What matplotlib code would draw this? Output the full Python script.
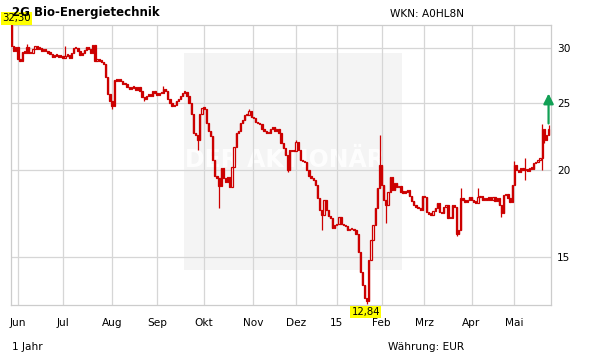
import matplotlib
matplotlib.use('Agg')
import matplotlib.pyplot as plt
import numpy as np
import pandas as pd
from matplotlib.patches import Rectangle

# ---------------- data ----------------
first_open = 32.30
closes = [
    30.20, 29.70, 30.10, 28.93, 28.74, 29.61, 29.51, 30.10, 29.51, 29.45,   # 0-9
    29.90, 30.20, 29.90, 30.00, 29.70, 29.80, 29.70, 29.51, 29.41, 29.12,   # 10-19
    29.31, 29.22, 29.12, 29.10, 29.03, 29.22, 29.31, 29.03, 29.51, 30.00,   # 20-29
    29.95, 29.70, 29.31, 29.51, 29.80, 30.10, 29.90, 29.51, 30.30, 28.74,   # 30-39
    28.93, 28.74, 28.65, 28.46, 27.26, 25.78, 25.19, 24.78, 26.99, 26.90,   # 40-49
    26.99, 26.90, 26.64, 26.60, 26.38, 26.20, 26.29, 26.38, 26.12, 26.38,   # 50-59
    26.03, 25.52, 25.36, 25.61, 25.58, 25.61, 26.03, 25.86, 25.69, 25.86,   # 60-69
    25.80, 26.20, 26.03, 25.36, 25.02, 24.70, 24.86, 25.19, 25.36, 25.61,   # 70-79
    25.86, 25.94, 25.61, 25.02, 24.13, 22.66, 22.51, 22.07, 24.13, 24.61,   # 80-89
    24.53, 23.35, 22.81, 22.37, 20.66, 19.60, 19.47, 18.96, 20.12, 19.47,   # 90-99
    19.22, 19.54, 18.90, 20.19, 21.57, 22.66, 22.81, 23.42, 23.58, 24.05,   # 100-109
    24.00, 24.37, 23.89, 23.74, 23.50, 23.35, 23.27, 22.89, 22.81, 22.66,   # 110-119
    22.62, 22.96, 23.04, 22.81, 22.96, 22.59, 21.86, 21.50, 21.01, 19.99,   # 120-129
    21.35, 21.30, 21.28, 21.93, 21.35, 20.66, 20.59, 20.53, 19.99, 19.60,   # 130-139
    19.47, 19.34, 19.03, 18.23, 17.52, 17.23, 18.11, 17.52, 17.18, 17.06,   # 140-149
    16.51, 16.67, 16.73, 17.12, 16.73, 16.67, 16.62, 16.40, 16.45, 16.45,   # 150-159
    16.40, 16.18, 15.25, 14.28, 13.68, 13.10, 12.95, 14.85, 15.87, 16.67,   # 160-169
    17.63, 18.84, 20.33, 19.03, 18.11, 17.81, 18.59, 19.54, 18.71, 19.15,   # 170-179
    18.90, 18.96, 18.59, 18.55, 18.59, 18.71, 18.35, 18.05, 17.81, 17.69,   # 180-189
    17.63, 17.52, 18.35, 18.30, 17.40, 17.29, 17.25, 17.46, 17.63, 17.93,   # 190-199
    17.40, 17.35, 17.69, 17.81, 17.06, 17.10, 17.81, 17.69, 16.18, 16.40,   # 200-209
    18.23, 18.11, 17.99, 18.11, 18.29, 18.11, 17.99, 17.95, 18.29, 18.35,   # 210-219
    18.11, 18.23, 18.11, 18.29, 18.11, 18.29, 18.05, 18.23, 17.81, 17.35,   # 220-229
    18.41, 18.47, 18.23, 17.99, 19.03, 20.33, 19.99, 19.86, 20.12, 19.99,   # 230-239
    20.05, 19.95, 20.12, 20.10, 20.46, 20.53, 20.66, 20.80, 22.96, 22.07,   # 240-249
    22.44, 22.96,                                                           # 250-251
]
extra_highs = {0: 32.30, 7: 30.40, 25: 30.20, 71: 26.46, 111: 24.50, 133: 22.10,
               172: 22.44, 210: 18.84, 218: 18.84, 235: 20.60, 240: 20.80,
               248: 23.27, 251: 23.20}
extra_lows = {47: 24.53, 62: 25.19, 87: 21.35, 97: 17.63, 129: 19.86, 145: 16.40,
              166: 12.84, 175: 16.78, 208: 16.08, 229: 17.12, 240: 19.34,
              248: 19.99, 249: 21.90}
holidays = ['2014-12-24', '2014-12-25', '2014-12-26', '2014-12-31',
            '2015-01-01', '2015-04-03', '2015-04-06', '2015-05-01']
month_labels = ['Jun', 'Jul', 'Aug', 'Sep', 'Okt', 'Nov', 'Dez', '15',
                'Feb', 'Mrz', 'Apr', 'Mai']
ytick_values = [15, 20, 25, 30]
ytick_labels = ['15', '20', '25', '30']
high_label = '32,30'
low_label = '12,84'
title = '2G Bio-Energietechnik'
wkn_text = 'WKN: A0HL8N'
period_text = '1 Jahr'
currency_text = 'Währung: EUR'
watermark = 'DER AKTIONÄR'

# ---------------- derived ----------------
N = len(closes)
dates = pd.bdate_range('2014-05-28', '2015-05-26')
dates = dates[~dates.isin(pd.to_datetime(holidays))]
if len(dates) != N:
    dates = dates[-N:] if len(dates) > N else pd.bdate_range(end='2015-05-26', periods=N)
idx = np.arange(N)
closes_a = np.array(closes)
opens_a = np.concatenate([[first_open], closes_a[:-1]])
highs_a = np.maximum(opens_a, closes_a)
lows_a = np.minimum(opens_a, closes_a)
for k, v in extra_highs.items():
    highs_a[k] = max(highs_a[k], v)
for k, v in extra_lows.items():
    lows_a[k] = min(lows_a[k], v)
month_pos = [i for i in range(1, N) if dates[i].month != dates[i - 1].month]

RED = '#cc0000'
GRID = '#d6d6d6'

fig = plt.figure(figsize=(6.11, 3.64), dpi=100)
fig.patch.set_facecolor('white')
ax = fig.add_axes([10.7 / 611, 59 / 364, 540 / 611, 280 / 364])
ax.set_yscale('log')
ax.set_xlim(-0.4, 252.0)
ax.set_ylim(12.80, 32.35)

# watermark
ax.add_patch(Rectangle((0.32, 0.125), 0.404, 0.775, transform=ax.transAxes,
                       facecolor='#f4f4f4', edgecolor='none', zorder=0.1))
ax.text(0.508, 0.518, watermark, transform=ax.transAxes, ha='center', va='center',
        fontsize=17, fontweight='bold', color='white', alpha=0.85, zorder=0.2)

# grid
ax.set_axisbelow(True)
ax.set_xticks(month_pos)
ax.set_xticklabels(month_labels)
ax.set_yticks(ytick_values)
ax.set_yticklabels(ytick_labels)
ax.yaxis.set_minor_locator(matplotlib.ticker.NullLocator())
ax.grid(True, color=GRID, linewidth=0.9)
ax.yaxis.tick_right()
ax.tick_params(axis='both', length=0, labelsize=7.6, colors='black')
ax.tick_params(axis='x', pad=9)
ax.tick_params(axis='y', pad=4.5)
for s in ax.spines.values():
    s.set_color('#cccccc')
    s.set_linewidth(0.9)

# candles
ax.vlines(idx, lows_a, highs_a, color=RED, linewidth=0.9, zorder=2)
up = closes_a >= opens_a
bottoms = np.minimum(opens_a, closes_a)
heights = np.maximum(np.abs(closes_a - opens_a), bottoms * 0.005)
ax.bar(idx[up], heights[up], bottom=bottoms[up], width=0.6,
       facecolor='white', edgecolor=RED, linewidth=0.9, zorder=3)
ax.bar(idx[~up], heights[~up], bottom=bottoms[~up], width=0.6,
       facecolor=RED, edgecolor=RED, linewidth=0.9, zorder=3)

# high / low labels
hi_i = int(np.argmax(highs_a))
lo_i = int(np.argmin(lows_a))
ax.annotate(high_label, (hi_i, highs_a[hi_i]), xytext=(5, 7), textcoords='offset pixels',
            ha='center', va='center', fontsize=7.3, annotation_clip=False, zorder=6,
            bbox=dict(boxstyle='square,pad=0.12', facecolor='#ffff00', edgecolor='none'))
ax.annotate(low_label, (lo_i, lows_a[lo_i]), xytext=(-1, -8), textcoords='offset pixels',
            ha='center', va='center', fontsize=7.3, annotation_clip=False, zorder=6,
            bbox=dict(boxstyle='square,pad=0.12', facecolor='#ffff00', edgecolor='none'))

# trend arrow
last = N - 1
ax.annotate('', xy=(last, closes_a[-1] * 1.123), xytext=(last, closes_a[-1] * 1.017),
            arrowprops=dict(arrowstyle='-|>,head_width=0.3,head_length=0.6',
                            color='#12a055', lw=1.6, shrinkA=0, shrinkB=0),
            annotation_clip=False, zorder=5)

# texts
fig.text(12 / 611, 1 - 12.5 / 364, title, fontsize=8.5, fontweight='bold',
         ha='left', va='center', zorder=1)
fig.text(390 / 611, 1 - 14 / 364, wkn_text, fontsize=7.6, ha='left', va='center')
fig.text(12 / 611, 1 - 347 / 364, period_text, fontsize=7.6, ha='left', va='center')
fig.text(388 / 611, 1 - 347 / 364, currency_text, fontsize=7.6, ha='left', va='center')

fig.savefig('out.png', dpi=100, facecolor='white')
